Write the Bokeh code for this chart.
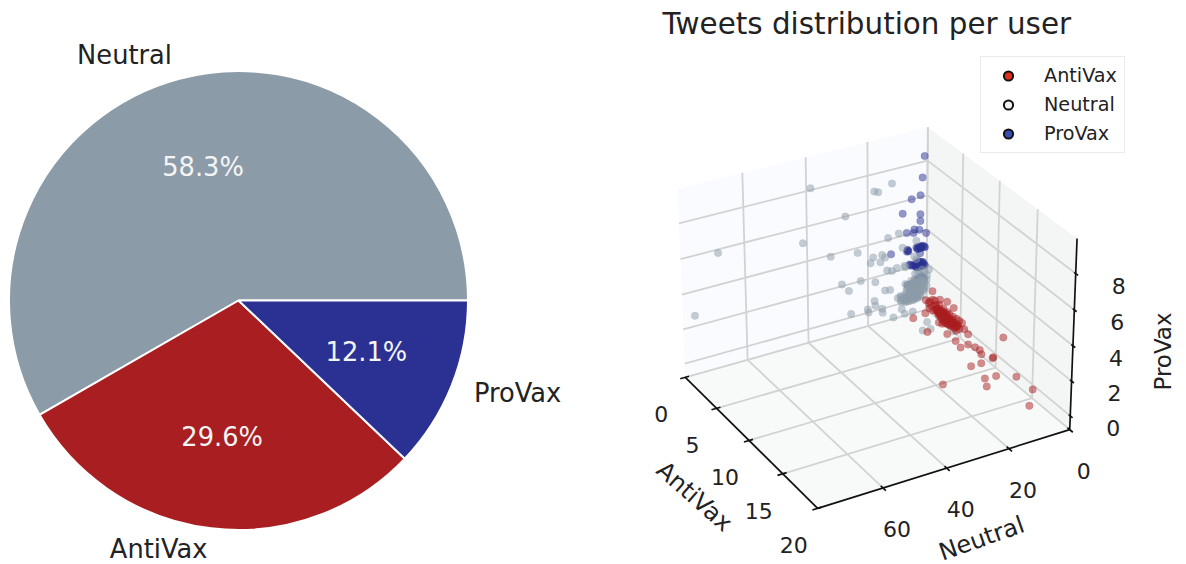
import numpy as np
from bokeh.embed import file_html
from bokeh.models import ColumnDataSource, Legend, LegendItem, Range1d
from bokeh.plotting import figure
from bokeh.resources import INLINE

FONT = "DejaVu Sans"

# ---------- data ----------
pie_labels = ["Neutral", "AntiVax", "ProVax"]
pie_shares = [58.3, 29.6, 12.1]
pie_colors = ["#8C9BA8", "#A91E20", "#2A3192"]

antivax_ticks = [0, 5, 10, 15, 20]
neutral_ticks = [0, 20, 40, 60]
provax_ticks = [0, 2, 4, 6, 8]
antivax_lim = (0, 20)
neutral_lim = (0, 80)
provax_lim = (-0.8, 9.9)

# each user: (AntiVax tweets, Neutral tweets, ProVax tweets)
provax_users = [
    (0, 1, 8.3), (0, 1.65, 7.1), (0, 2.3, 6.1), (0, 5.3, 6.0), (0, 2.3, 5.0), (0, 2.3, 4.6),
    (0, 8.3, 5.3), (0, 2.6, 4.1), (0, 4.3, 4.2), (0, 4.6, 4.0), (0, 6.9, 4.1), (0, 0.3, 3.8),
    (0, 12.2, 3.1), (0, 3.6, 3.1), (0, 2.6, 3.1), (0, 1.65, 3.1), (0, 0.66, 3.0), (0, 6.6, 3.1),
    (0, 6.3, 3.0), (0, 2.3, 2.7), (0, 4.3, 2.1), (0, 3.3, 2.1), (0, 2.3, 2.2), (0, 1.3, 2.1),
    (0, 0.66, 1.9), (0, 3, 1.9), (0, 2, 1.9), (0, 5.3, 2.1), (0, 5.9, 2.2), (0, 2, 1.2),
    (0, 3.3, 1.2), (0, 1, 1.1), (0, 6.6, 1.0), (0, 5.3, 1.0), (0, 3.6, 2.0), (0, 2.8, 2.0),
    (0, 1.8, 2.0), (0, 3.0, 3.0), (0, 2.0, 3.0), (0, 1.6, 1.3), (0, 2.6, 1.1),
    (0, 3.0, 3.1), (0, 2.2, 3.1), (0, 1.3, 3.1), (0, 0.9, 3.0), (0, 3.3, 3.0), (0, 2.4, 3.0),
    (0, 1.9, 3.05), (0, 4.0, 2.1), (0, 3.6, 2.2), (0, 3.0, 2.15), (0, 2.6, 2.1), (0, 1.8, 2.1),
    (0, 1.5, 2.15), (0, 1.0, 2.0), (0, 2.4, 1.9), (0, 3.4, 1.9), (0, 1.6, 1.9), (0, 2.8, 2.25),
    (0, 3.8, 1.95), (0, 2.4, 1.25), (0, 1.8, 1.2), (0, 2.8, 1.15), (0, 1.3, 1.2), (0, 6.5, 3.05),
    (0, 6.8, 3.0), (0, 5.6, 2.15),
]
neutral_users = [
    (0, 38.6, 8.1), (0, 17.8, 7.0), (0, 16.5, 6.9), (0, 11.9, 7.2), (0, 27.4, 6.0), (0, 41.3, 5.1),
    (0, 68.3, 5.8), (0, 32.3, 3.9), (0, 23.4, 3.7), (0, 13.2, 4.1), (0, 9.6, 4.2), (0, 18.2, 3.2),
    (0, 19.1, 2.9), (0, 15.8, 2.8), (0, 15.2, 3.2), (0, 14.2, 3.0), (0, 8.3, 3.3), (0, 22.4, 2.0),
    (0, 17.5, 1.7), (0, 13.5, 2.2), (0, 11.9, 2.1), (0, 10.2, 2.2), (0, 7.3, 2.1), (0, 28.7, 2.1),
    (0, 76.2, 2.6), (0, 26.4, 1.6), (0, 25.7, 0.2), (0, 20.1, 0.2), (0, 19.8, 0), (0, 17.5, 0.3),
    (0, 15.2, 0), (1, 17.3, 0.2), (0, 17.8, 0.6), (0, 14.2, 1.05), (0, 12.5, 1.0), (1, 10.8, 0.1),
    (1.5, 10.9, 0), (2, 15.9, 0.2), (1.5, 8.2, 0), (5, 12.9, 0.3), (5, 10.2, 0.26), (6, 4.8, 0.2),
    (4, 9.1, 0.27), (0, 7.6, 2.2), (0, 4.3, 2.6), (0, 3.6, 2.4), (0, 3.6, 3.5), (0.5, 0.4, 1.8),
    (0.3, 0.6, 1.4), (0, 6.6, 1.0), (0, 6.6, 0.8), (0, 5.3, 1.2), (0, 5.3, 0.85), (0, 4, 1.25),
    (0, 4, 0.9), (0, 2.6, 1.2), (0, 2.6, 0.95), (0, 2.6, 0.6), (0, 1.3, 1.2), (0, 1.3, 0.9),
    (0, 1.3, 0.6), (0, 0, 1.0), (0, 0, 0.65), (0, 7.3, 1.1), (0, 5.9, 1.0), (0, 4.6, 1.05),
    (0, 3.3, 0.8), (0, 2, 0.75), (0, 0.7, 0.85), (0, 9.9, 0.37), (0, 8.6, 0.42), (0, 8.6, 0.07),
    (0, 7.3, 0.48), (0, 7.3, 0.12), (0, 7.3, 0), (0, 5.9, 0.46), (0, 5.9, 0.17), (0, 5.9, 0),
    (0, 4.6, 0.46), (0, 4.6, 0.22), (0, 4.6, 0), (0, 3.3, 0.4), (0, 3.3, 0.1), (0, 2, 0.4),
    (0, 2, 0.1), (0, 7.9, 0.3), (0, 6.6, 0.25), (0, 5.3, 0.35), (0, 4, 0.1), (0, 2.6, 0.3),
    (0, 8.9, 0.2), (0, 6.2, 0.05), (0, 3.6, 0.25), (0, 1.0, 0.4),
    (0, 6.0, 0.9), (0, 5.0, 0.95), (0, 4.4, 1.1), (0, 3.7, 1.0), (0, 3.0, 1.05), (0, 2.2, 1.1),
    (0, 1.6, 1.05), (0, 0.9, 1.0), (0, 6.9, 0.7), (0, 5.6, 0.7), (0, 4.8, 0.75), (0, 4.0, 0.7),
    (0, 3.2, 0.65), (0, 2.4, 0.55), (0, 1.6, 0.5), (0, 0.8, 0.5), (0, 7.0, 0.3), (0, 6.2, 0.35),
    (0, 5.5, 0.25), (0, 4.9, 0.3), (0, 4.3, 0.35), (0, 3.8, 0.3), (0, 3.0, 0.25), (0, 2.3, 0.2),
    (0, 8.2, 0.25), (0, 7.6, 0.2), (0, 6.9, 0.05), (0, 5.1, 0.1), (0, 4.2, 0.05), (0, 3.0, 0.05),
    (0, 6.0, 0.55), (0, 5.0, 0.5), (0, 3.6, 0.55), (0, 2.8, 0.45), (0, 9.0, 0.45), (0, 4.0, 1.55),
    (0, 3.0, 1.6), (0, 1.5, 1.7), (0, 0.7, 1.5), (0, 2.2, 1.4),
]
antivax_users = [
    (1.3, 1, 0.8), (2.4, 1, 0.66), (3.45, 1, 0.9), (4.4, 1, 0.85), (2.2, 5.5, 0), (2.4, 10.1, 0),
    (4.7, 10.6, 0), (5.7, 6.2, 0), (5.6, 2.9, 0), (5.7, 0.4, 0), (6.5, 1, 0), (6.9, 6.2, 0),
    (7.8, 4.1, 0), (8.4, 3.2, 0), (8.9, 2.8, 0), (7.9, 6.9, 0), (11.35, 1, 1.5), (9.5, 3.7, 0),
    (10.3, 1.6, 0), (10.4, 2.1, 0), (10.6, 6.4, 0), (10.6, 9.8, 0), (13.5, 1.65, 0), (12.6, 10, 0),
    (12.7, 6.5, 0), (13.6, 11.8, 0), (11.8, 22, 0), (15.6, 1.4, 0), (17.4, 7, 0),
    (0.5, 1.37, 0), (1.0, 1.47, 0), (1.5, 1.83, 0), (0.9, 0, 0.1), (1.5, 0.56, 0), (2.1, 1.44, 0),
    (2.55, 2.04, 0), (1.9, 0, 0.15), (2.4, 0.74, 0), (3.0, 1.62, 0), (2.5, 0, 0.12), (2.8, 0.3, 0),
    (3.4, 1.2, 0), (3.1, 0, 0.1), (3.8, 1.0, 0), (3.4, 0, 0.06), (4.1, 1.1, 0), (3.9, 0, 0.1),
    (4.5, 0.9, 0), (4.4, 0, 0.15), (4.9, 0.74, 0), (4.8, 0, 0.18), (5.2, 0, 0.18), (3.9, 4.84, 0),
    (4.2, 4.4, 0), (4.15, 3.4, 0), (4.4, 2.9, 0), (4.7, 2.7, 0), (5.0, 2.3, 0), (5.1, 1.5, 0),
    (5.5, 1.6, 0), (1.25, 0, 0.18), (2.1, 2.7, 0), (1.7, 2.9, 0), (3.0, 1.2, 0.05), (3.5, 1.8, 0),
    (3.2, 0.6, 0.05), (4.0, 0.5, 0), (4.3, 1.6, 0), (2.7, 0.9, 0.1), (3.7, 2.4, 0), (4.6, 1.8, 0),
    (5.0, 1.0, 0), (2.2, 2.0, 0), (2.9, 2.6, 0), (1.8, 0.8, 0.1),
    (2.0, 1.0, 0), (2.3, 1.3, 0), (2.6, 1.5, 0), (2.9, 1.8, 0), (3.2, 2.1, 0), (3.5, 2.3, 0),
    (3.8, 2.0, 0), (4.1, 2.2, 0), (4.4, 2.0, 0), (4.7, 2.1, 0), (3.3, 1.0, 0), (3.6, 1.3, 0),
    (3.9, 1.5, 0), (4.2, 1.7, 0), (4.5, 1.4, 0), (4.8, 1.4, 0), (5.1, 1.8, 0), (2.4, 1.7, 0),
    (2.7, 2.1, 0), (3.0, 2.4, 0), (3.3, 2.7, 0), (3.6, 3.0, 0), (3.9, 3.2, 0), (4.2, 3.3, 0),
    (4.5, 3.2, 0), (4.8, 3.0, 0), (5.2, 2.6, 0), (2.1, 0.9, 0), (2.5, 1.1, 0), (2.9, 1.2, 0),
    (0.9, 0.9, 0.05),
]
legend_names = ["AntiVax", "Neutral", "ProVax"]
legend_colors = ["#E0301E", "#F2F2F2", "#3A4DB0"]

# ---------- layout (page pixels) ----------
ORG = 1
W, H = 1178, 563
BORDER_TOP = 40
PIE_CX, PIE_CY, PIE_R = 239, 564 - 301, 229.5

p = figure(
    width=W, height=H, toolbar_location=None, output_backend="svg", min_border=0,
    min_border_top=BORDER_TOP,
    x_range=Range1d(ORG, ORG + W), y_range=Range1d(564 - ORG - H, 564 - ORG - BORDER_TOP),
    title="Tweets distribution per user",
)
p.title.text_font = FONT
p.title.text_font_size = "29.4px"
p.title.text_font_style = "normal"
p.title.text_color = "#222222"
p.title.align = "left"
p.title.offset = 662
p.title.standoff = 0
p.axis.visible = False
p.grid.visible = False
p.outline_line_color = None

# ---------- pie ----------
lo = 0.0
starts, ends = [], []
for share in pie_shares:
    starts.append(lo)
    lo += share / 100 * 2 * np.pi
    ends.append(lo)
mids = [(s + e) / 2 for s, e in zip(starts, ends)]

p.wedge(x=PIE_CX, y=PIE_CY, radius=PIE_R, start_angle=starts, end_angle=ends,
        fill_color=pie_colors, line_color="white", line_width=2)
p.text(
    x=[PIE_CX + 1.1 * PIE_R * np.cos(m) for m in mids],
    y=[PIE_CY + 1.1 * PIE_R * np.sin(m) for m in mids], text=pie_labels,
    text_align=["left" if np.cos(m) > 0 else "right" for m in mids], text_baseline="middle",
    text_font=dict(value=FONT), text_font_size=dict(value="25.7px"), text_color="#222222",
    x_offset=[-1.5, -1, 1], y_offset=[-2, -2, -1],
)
p.text(
    x=[PIE_CX + 0.6 * PIE_R * np.cos(m) for m in mids],
    y=[PIE_CY + 0.6 * PIE_R * np.sin(m) for m in mids],
    text=[f"{s:.1f}%" for s in pie_shares], text_align="center", text_baseline="middle",
    text_font=dict(value=FONT), text_font_size=dict(value="25.7px"), text_color="#F4F4F4",
)

# ---------- 3D projection fitted to the box corners as seen on the page ----------
box_unit = [(0, 0, 0), (0, 1, 0), (1, 1, 0), (1, 0, 0), (0, 0, 1), (0, 1, 1), (1, 0, 1)]
box_page = [(928, 310), (685, 377), (819, 509), (1069, 431), (928, 128), (678, 190), (1078, 238)]
rows = []
for (X, Y, Z), (u, v) in zip(box_unit, box_page):
    u, v = u / 1000, v / 1000
    rows.append([X, Y, Z, 1, 0, 0, 0, 0, -u * X, -u * Y, -u * Z, -u])
    rows.append([0, 0, 0, 0, X, Y, Z, 1, -v * X, -v * Y, -v * Z, -v])
PROJ = np.linalg.svd(np.array(rows))[2][-1].reshape(3, 4)


def project(a, n, z):
    a, n, z = np.asarray(a, float), np.asarray(n, float), np.asarray(z, float)
    q = np.stack([
        (a - antivax_lim[0]) / (antivax_lim[1] - antivax_lim[0]),
        (n - neutral_lim[0]) / (neutral_lim[1] - neutral_lim[0]),
        (z - provax_lim[0]) / (provax_lim[1] - provax_lim[0]),
        np.ones_like(a),
    ])
    h = PROJ @ q
    return 1000 * h[0] / h[2], 564 - 1000 * h[1] / h[2]


A0, A1 = antivax_lim
N0, N1 = neutral_lim
Z0, Z1 = provax_lim


def pane(corners, color):
    a, n, z = zip(*corners)
    x, y = project(a, n, z)
    p.patch(x, y, fill_color=color, line_color=None)


pane([(A0, N0, Z0), (A0, N1, Z0), (A0, N1, Z1), (A0, N0, Z1)], "#F9FBFE")
pane([(A0, N0, Z0), (A1, N0, Z0), (A1, N0, Z1), (A0, N0, Z1)], "#F4F6F6")
pane([(A0, N0, Z0), (A0, N1, Z0), (A1, N1, Z0), (A1, N0, Z0)], "#F8FAF9")

gx, gy = [], []


def seg(store_x, store_y, s, e):
    x, y = project(*zip(s, e))
    store_x.append(list(x))
    store_y.append(list(y))


for n in neutral_ticks:
    seg(gx, gy, (A0, n, Z0), (A1, n, Z0))
    seg(gx, gy, (A0, n, Z0), (A0, n, Z1))
for a in antivax_ticks[:-1]:
    seg(gx, gy, (a, N0, Z0), (a, N1, Z0))
    seg(gx, gy, (a, N0, Z0), (a, N0, Z1))
for z in provax_ticks:
    seg(gx, gy, (A0, N0, z), (A0, N1, z))
    seg(gx, gy, (A0, N0, z), (A1, N0, z))
p.multi_line(gx, gy, line_color="#D2D2D2", line_width=1.8)

ax, ay = [], []
seg(ax, ay, (A0, N1, Z0), (A1, N1, Z0))
seg(ax, ay, (A1, N1, Z0), (A1, N0, Z0))
seg(ax, ay, (A1, N0, Z0), (A1, N0, Z1))
for a in antivax_ticks:
    seg(ax, ay, (a, N1 * 0.985, Z0), (a, N1 * 1.02, Z0))
for n in neutral_ticks:
    seg(ax, ay, (A1 * 0.985, n, Z0), (A1 * 1.02, n, Z0))
for z in provax_ticks:
    seg(ax, ay, (A1 * 0.99, N0, z), (A1 * 1.015, N0, z))
p.multi_line(ax, ay, line_color="#111111", line_width=1.7)


def scatter3d(users, color):
    a, n, z = zip(*users)
    x, y = project(a, n, z)
    src = ColumnDataSource(dict(x=x, y=y))
    return p.scatter("x", "y", source=src, size=7.5, fill_color=color, line_color=color,
                     fill_alpha=0.5, line_alpha=0.3, line_width=0.5)


scatter3d(provax_users, pie_colors[2])
scatter3d(neutral_users, pie_colors[0])
scatter3d(antivax_users, pie_colors[1])


def tick_labels(a, n, z, labels, dx, dy):
    x, y = project(a, n, z)
    p.text(x=list(x), y=list(y), text=labels, text_align="center", text_baseline="middle",
           x_offset=dx, y_offset=dy, text_font=dict(value=FONT),
           text_font_size=dict(value="22px"), text_color="#222222")


tick_labels(antivax_ticks, [N1] * 5, [Z0] * 5, [str(t) for t in antivax_ticks], -24, 37)
tick_labels([A1] * 4, neutral_ticks, [Z0] * 4, [str(t) for t in neutral_ticks], 14, 41)
tick_labels([A1] * 5, [N0] * 5, provax_ticks, [str(t) for t in provax_ticks], 43, 12)


def axis_label(px, py, txt, deg, size="24px"):
    p.text(x=[px], y=[564 - py], text=[txt], angle=deg, angle_units="deg", text_align="center",
           text_baseline="middle", text_font=dict(value=FONT),
           text_font_size=dict(value=size), text_color="#222222")


axis_label(695, 497, "AntiVax", -41.5)
axis_label(982, 539, "Neutral", 19.4)
axis_label(1163, 352, "ProVax", 90, "23px")

legend_items = []
for name, col in zip(legend_names, legend_colors):
    r = p.scatter([np.nan], [np.nan], size=9, fill_color=col, line_color="#111111", line_width=2)
    legend_items.append(LegendItem(label=name, renderers=[r]))
legend = Legend(
    items=legend_items, location=(981 - ORG, ORG + H - 154), orientation="vertical",
    padding=7, margin=0, spacing=6, glyph_width=40, glyph_height=23, label_standoff=16,
    label_text_font=FONT, label_text_font_size="19.2px", label_text_color="#222222",
    border_line_color="#D8D8D8", border_line_width=1.8, background_fill_alpha=0.9,
)
p.add_layout(legend, "center")

open("out.html", "w").write(file_html(p, INLINE))
